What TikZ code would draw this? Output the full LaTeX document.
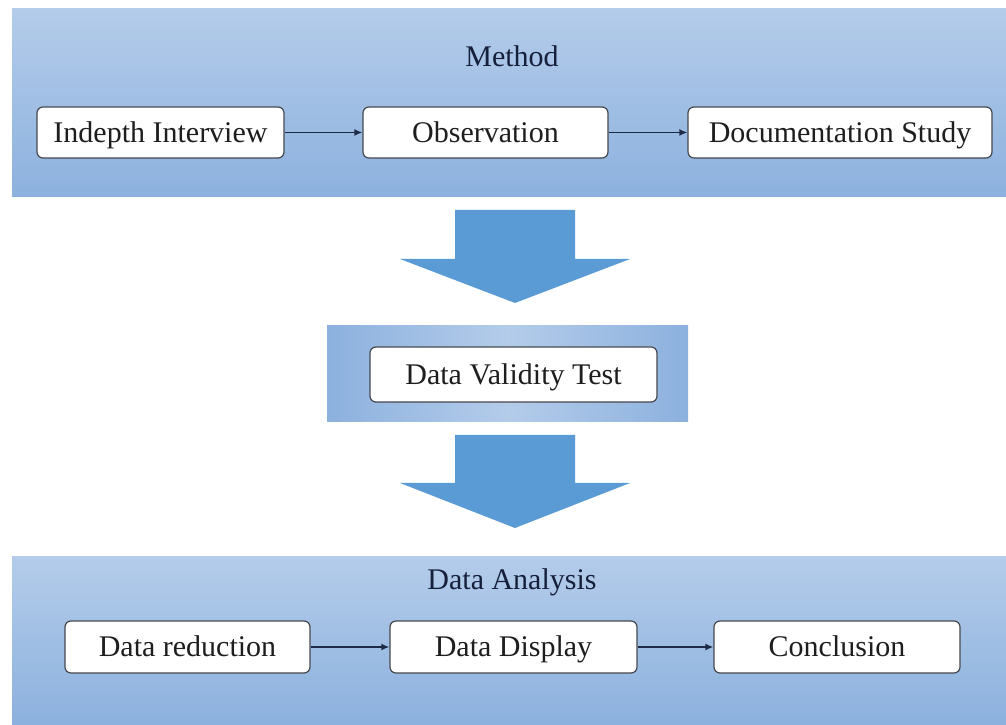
\documentclass[tikz,border=0pt]{standalone}
\usepackage{fontspec}
\setmainfont{Liberation Serif}
\usetikzlibrary{arrows.meta}
\definecolor{bandtop}{RGB}{180,204,234}
\definecolor{bandbot}{RGB}{140,177,222}
\definecolor{bigarrow}{RGB}{91,155,213}
\definecolor{linknavy}{RGB}{30,42,70}
\definecolor{boxedge}{RGB}{70,72,78}
\definecolor{txt}{RGB}{30,30,30}
\definecolor{headtxt}{RGB}{22,32,58}
\tikzset{
  band/.style={top color=bandtop, bottom color=bandbot, draw=none},
  midband/.style={left color=bandbot, right color=bandbot, middle color=bandtop, draw=none},
  stepbox/.style={draw=boxedge, line width=1.2pt, rounded corners=6pt, fill=white,
     inner sep=0pt, text=txt, text height=20pt, text depth=0pt,
     font=\fontsize{30}{36}\selectfont},
  heading/.style={text=headtxt, text height=20pt, text depth=0pt, inner sep=0pt, font=\fontsize{30}{36}\selectfont},
  link/.style={draw=linknavy, line width=1.8pt, -{Latex[length=8pt,width=7pt]}},
  fatarrow/.style={fill=bigarrow, draw=none}
}
\begin{document}
\begin{tikzpicture}[x=1pt,y=1pt]
\useasboundingbox (0,0) rectangle (1006,725);
\fill[white] (0,0) rectangle (1006,725);
% bands
\shade[band] (12,528) rectangle (1006,716);
\shade[band] (12,0) rectangle (1006,168);
\shade[midband] (327,303) rectangle (688,399);
% big arrows
\fill[fatarrow] (455,515) -- (575,515) -- (575,466) -- (630,466) -- (515,422) -- (400,466) -- (455,466) -- cycle;
\fill[fatarrow] (455,290) -- (575,290) -- (575,242) -- (630,242) -- (515,197) -- (400,242) -- (455,242) -- cycle;
% headings
\node[heading] (method) at (512,668) {Method};
\node[heading] (analysis) at (512,145) {Data Analysis};
% top boxes
\node[stepbox, minimum width=247pt, minimum height=51pt] (ii) at (160.5,592.5) {Indepth Interview};
\node[stepbox, minimum width=245pt, minimum height=51pt] (obs) at (485.5,592.5) {Observation};
\node[stepbox, minimum width=304pt, minimum height=51pt] (doc) at (840,592.5) {Documentation Study};
% middle box
\node[stepbox, minimum width=287pt, minimum height=55pt] (dvt) at (513.5,350.5) {Data Validity Test};
% bottom boxes
\node[stepbox, minimum width=245pt, minimum height=52pt] (red) at (187.5,78) {Data reduction};
\node[stepbox, minimum width=247pt, minimum height=52pt] (disp) at (513.5,78) {Data Display};
\node[stepbox, minimum width=246pt, minimum height=52pt] (conc) at (837,78) {Conclusion};
% links
\draw[link] (ii) -- (obs);
\draw[link] (obs) -- (doc);
\draw[link] (red) -- (disp);
\draw[link] (disp) -- (conc);
\end{tikzpicture}
\end{document}
